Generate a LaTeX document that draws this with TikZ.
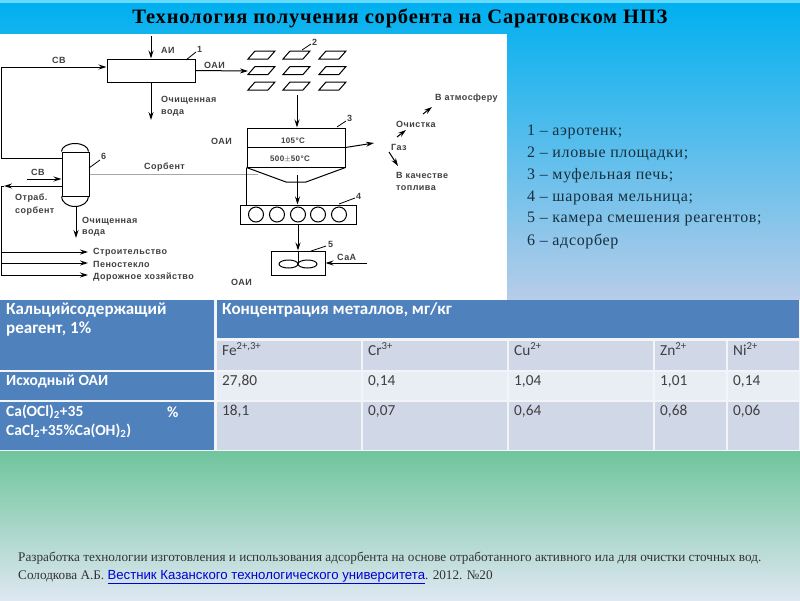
\documentclass[tikz,border=0pt]{standalone}
\usepackage{fontspec}
\setmainfont{Liberation Serif}
\newfontfamily\schemefont[LetterSpace=5]{Liberation Sans}
\newfontfamily\tablefont{Carlito}
\newfontfamily\linkfont{Liberation Sans}
\newfontfamily\titlefont[LetterSpace=4]{Liberation Serif}
\newfontfamily\legendfont[LetterSpace=4]{Liberation Serif}
\usetikzlibrary{arrows.meta}

\definecolor{headblue}{HTML}{4F81BD}
\definecolor{cellgrey}{HTML}{D0D8E8}
\definecolor{celllight}{HTML}{E9EDF4}
\definecolor{legendink}{HTML}{16303F}

\tikzset{
  unit/.style={draw, line width=1pt, inner sep=0pt},
  pipe/.style={line width=1pt},
  flow/.style={line width=1pt, -{Stealth[length=8pt,width=5pt]}},
  lead/.style={line width=0.8pt},
  scheme/.style={font=\schemefont\bfseries\fontsize{9}{11}\selectfont, text=black!75, inner sep=0pt, anchor=west},
  tempmark/.style={font=\schemefont\bfseries\fontsize{8}{10}\selectfont, text=black!75, inner sep=0pt},
  legenditem/.style={font=\legendfont\fontsize{16}{19}\selectfont, text=legendink, inner sep=0pt, anchor=west},
  headtext/.style={font=\tablefont\bfseries\fontsize{17}{20}\selectfont, text=white, inner sep=0pt, anchor=west},
  rowtext/.style={font=\tablefont\bfseries\fontsize{15.5}{18}\selectfont, text=white, inner sep=0pt, anchor=west},
  celltext/.style={font=\tablefont\fontsize{15.3}{18}\selectfont, text=black!75, inner sep=0pt, anchor=west, text height=11pt, text depth=3pt},
  sourcetext/.style={font=\fontsize{13.2}{16}\selectfont, text=black!80, inner sep=0pt, anchor=west},
}

\begin{document}
\begin{tikzpicture}[x=1pt, y=-1pt]
  \useasboundingbox (0, 0) rectangle (800, 600);

  % фон
  \fill[top color=blue!25!cyan!60, bottom color=blue!25!cyan!60] (0, 0) rectangle (800, 3);
  \fill[top color={rgb,255:red,0;green,176;blue,240}, bottom color={rgb,255:red,184;green,204;blue,232}] (0, 3) rectangle (800, 300);
  \fill[celllight!60!white] (0, 300) rectangle (800, 451);
  \fill[top color={rgb,255:red,111;green,197;blue,156}, bottom color={rgb,255:red,222;green,231;blue,242}] (0, 451) rectangle (800, 600);
  \fill[white] (0, 34) rectangle (507, 300);

  \node[font=\titlefont\bfseries\fontsize{20.5}{24}\selectfont, inner sep=0pt] (title) at (400, 18) {Технология получения сорбента на Саратовском НПЗ};

  % 1 -- аэротенк
  \node[unit, minimum width=88pt, minimum height=23pt] (aer) at (151, 70.5) {};
  \coordinate (aiin) at (151, 36);
  \coordinate (aerout) at (151, 120);
  \coordinate (plotin) at (248, 71);
  \coordinate (cvturn) at (1, 67);
  \draw[flow] (aiin) -- (aer.north);
  \draw[flow] (aer.south) -- (aerout);
  \draw[flow] (aer.east) -- (plotin);
  \draw[flow] (cvturn) -- (cvturn -| aer.west);
  \node[scheme] (ai) at (161, 50) {АИ};
  \node[scheme] (aioa) at (204, 65) {ОАИ};
  \node[scheme] (cvtop) at (52, 60) {СВ};
  \node[scheme] (aerwater) at (161, 100) {Очищенная};
  \node[scheme] (aerwatertwo) at (161, 113) {вода};
  \node[scheme] (no1) at (197, 49) {1};
  \coordinate (no1a) at (186, 60);
  \coordinate (no1b) at (196, 52);
  \draw[lead] (no1a) -- (no1b);

  % 2 -- иловые площадки
  \foreach \px in {248, 283, 319}
    \foreach \py in {51, 66.5, 82}
      \draw[unit] (\px, \py + 8) -- (\px + 20, \py + 8) -- (\px + 27, \py) -- (\px + 7, \py) -- cycle;
  \node[scheme] (no2) at (312, 42) {2};
  \coordinate (no2a) at (302, 50);
  \coordinate (no2b) at (311, 44);
  \draw[lead] (no2a) -- (no2b);

  % 3 -- муфельная печь
  \node[unit, minimum width=98pt, minimum height=39pt] (furn) at (296, 147.5) {};
  \draw[pipe] (furn.west) -- (furn.east);
  \coordinate (hopl) at (286, 182);
  \coordinate (hopr) at (306, 182);
  \draw[pipe] (furn.south west) -- (hopl) -- (hopr) -- (furn.south east);
  \coordinate (plotout) at (297, 95);
  \draw[flow] (plotout) -- (plotout |- furn.north);
  \node[tempmark] (tlow) at (293, 141) {105\textdegree C};
  \node[tempmark] (thigh) at (290, 159) {500$\pm$50\textdegree C};
  \node[scheme] (no3) at (347, 118) {3};
  \coordinate (no3a) at (337, 127);
  \coordinate (no3b) at (346, 121);
  \draw[lead] (no3a) -- (no3b);
  \node[scheme] (oaifurn) at (211, 141) {ОАИ};

  % газ
  \coordinate (gasend) at (374, 143);
  \draw[flow] (furn.east) -- (gasend);
  \node[scheme] (gas) at (391, 147) {Газ};
  \node[scheme] (clean) at (396, 124) {Очистка};
  \node[scheme] (atm) at (435, 98) {В атмосферу};
  \node[scheme] (fuel) at (396, 175) {В качестве};
  \node[scheme] (fueltwo) at (396, 188) {топлива};
  \coordinate (gasa) at (397, 137);
  \coordinate (gasb) at (406, 130);
  \coordinate (cleana) at (423, 114);
  \coordinate (cleanb) at (432, 107);
  \coordinate (fuela) at (389, 152);
  \coordinate (fuelb) at (398, 166);
  \draw[flow] (gasa) -- (gasb);
  \draw[flow] (cleana) -- (cleanb);
  \draw[flow] (fuela) -- (fuelb);

  % 4 -- шаровая мельница
  \node[unit, minimum width=116pt, minimum height=19pt] (mill) at (298, 214.5) {};
  \foreach \cx in {256, 277, 298, 318, 339}
    \draw[pipe] (\cx, 214.5) circle[radius=7.5pt];
  \coordinate (hopout) at (297.5, 175);
  \draw[flow] (hopout) -- (hopout |- mill.north);
  \node[scheme] (no4) at (356, 196) {4};
  \coordinate (no4a) at (339, 204);
  \coordinate (no4b) at (355, 198);
  \draw[lead] (no4a) -- (no4b);

  % 5 -- камера смешения
  \node[unit, minimum width=54pt, minimum height=24pt] (mix) at (298, 263) {};
  \draw[flow] (mill.south) -- (mix.north);
  \draw[pipe] (288.5, 264) ellipse[x radius=9.5pt, y radius=4pt];
  \draw[pipe] (307.5, 264) ellipse[x radius=9.5pt, y radius=4pt];
  \coordinate (hub) at (298, 264);
  \draw[pipe] (mix.north) -- (hub);
  \coordinate (caain) at (367, 263);
  \draw[flow] (caain) -- (mix.east);
  \node[scheme] (caa) at (337, 257) {СаА};
  \node[scheme] (oaimix) at (231, 282) {ОАИ};
  \node[scheme] (no5) at (328, 244) {5};
  \coordinate (no5a) at (311, 251);
  \coordinate (no5b) at (326, 246);
  \draw[lead] (no5a) -- (no5b);

  % 6 -- адсорбер
  \node[unit, minimum width=27pt, minimum height=44pt] (ads) at (75.5, 174) {};
  \draw[pipe] (ads.north west) arc[start angle=180, end angle=0, x radius=13.5pt, y radius=8pt];
  \draw[pipe] (ads.south west) arc[start angle=180, end angle=360, x radius=13.5pt, y radius=10pt];
  \coordinate (cvleft) at (1, 158);
  \draw[pipe] (cvturn) -- (cvleft) -- (cvleft -| ads.west);
  \coordinate (cvin) at (27, 179);
  \draw[flow] (cvin) -- (cvin -| ads.west);
  \node[scheme] (cvbot) at (31, 172) {СВ};
  \coordinate (spentend) at (4, 186);
  \draw[flow] (spentend -| ads.west) -- (spentend);
  \node[scheme] (spent) at (15, 198) {Отраб.};
  \node[scheme] (spenttwo) at (15, 211) {сорбент};
  \coordinate (adsbot) at (76, 206);
  \coordinate (adsout) at (76, 238);
  \draw[flow] (adsbot) -- (adsout);
  \node[scheme] (adswater) at (82, 221) {Очищенная};
  \node[scheme] (adswatertwo) at (82, 233) {вода};
  \node[scheme] (no6) at (101, 156) {6};
  \coordinate (no6a) at (89, 168);
  \coordinate (no6b) at (100, 160);
  \draw[lead] (no6a) -- (no6b);

  % сорбент
  \coordinate (sorbend) at (258, 174);
  \draw[black!35, line width=1pt] (ads.east) -- (sorbend);
  \node[scheme] (sorb) at (144, 167) {Сорбент};
  \draw[lead] (furn.south west) -- (furn.south west |- mill.north);

  % потребители
  \coordinate (usea) at (1, 252);
  \coordinate (useb) at (1, 263);
  \coordinate (usec) at (1, 275);
  \coordinate (enda) at (88, 252);
  \coordinate (endb) at (88, 263);
  \coordinate (endc) at (88, 275);
  \coordinate (spentdown) at (1, 186);
  \draw[pipe] (spentend) -- (spentdown) -- (usec);
  \draw[flow] (usea) -- (enda);
  \draw[flow] (useb) -- (endb);
  \draw[flow] (usec) -- (endc);
  \node[scheme] (bld) at (93, 252) {Строительство};
  \node[scheme] (foam) at (93, 264) {Пеностекло};
  \node[scheme] (road) at (93, 277) {Дорожное хозяйство};

  % легенда
  \node[legenditem] (leg1) at (527, 132) {1 – аэротенк;};
  \node[legenditem] (leg2) at (527, 154) {2 – иловые площадки;};
  \node[legenditem] (leg3) at (527, 176) {3 – муфельная печь;};
  \node[legenditem] (leg4) at (527, 198) {4 – шаровая мельница;};
  \node[legenditem] (leg5) at (527, 219) {5 – камера смешения реагентов;};
  \node[legenditem] (leg6) at (527, 241) {6 – адсорбер};

  % таблица
  \fill[headblue] (0, 300) rectangle (214, 370);
  \fill[headblue] (217, 300) rectangle (799, 338);
  \fill[headblue] (0, 372) rectangle (214, 400);
  \fill[headblue] (0, 402) rectangle (214, 450);
  \fill[cellgrey] (217, 341) rectangle (361, 370);
  \fill[cellgrey] (363, 341) rectangle (507, 370);
  \fill[cellgrey] (509, 341) rectangle (653, 370);
  \fill[cellgrey] (655, 341) rectangle (726, 370);
  \fill[cellgrey] (728, 341) rectangle (799, 370);
  \fill[celllight] (217, 372) rectangle (361, 400);
  \fill[celllight] (363, 372) rectangle (507, 400);
  \fill[celllight] (509, 372) rectangle (653, 400);
  \fill[celllight] (655, 372) rectangle (726, 400);
  \fill[celllight] (728, 372) rectangle (799, 400);
  \fill[cellgrey] (217, 402) rectangle (361, 450);
  \fill[cellgrey] (363, 402) rectangle (507, 450);
  \fill[cellgrey] (509, 402) rectangle (653, 450);
  \fill[cellgrey] (655, 402) rectangle (726, 450);
  \fill[cellgrey] (728, 402) rectangle (799, 450);

  \node[headtext] (reagent) at (6, 310) {Кальцийсодержащий};
  \node[headtext] (reagenttwo) at (6, 329) {реагент, 1\%};
  \node[headtext] (conc) at (222, 310) {Концентрация металлов, мг/кг};
  \node[rowtext] (rowa) at (6, 381) {Исходный ОАИ};
  \node[rowtext] (rowb) at (6, 412) {Ca(OCl)\textsubscript{2}+35};
  \node[rowtext] (rowbp) at (167, 412) {\%};
  \node[rowtext] (rowbtwo) at (6, 431) {CaCl\textsubscript{2}+35\%Ca(OH)\textsubscript{2})};

  \node[celltext] (fe) at (222, 351) {Fe\textsuperscript{2+,3+}};
  \node[celltext] (cr) at (368, 351) {Cr\textsuperscript{3+}};
  \node[celltext] (cu) at (514, 351) {Cu\textsuperscript{2+}};
  \node[celltext] (zn) at (660, 351) {Zn\textsuperscript{2+}};
  \node[celltext] (ni) at (733, 351) {Ni\textsuperscript{2+}};
  \node[celltext] (a1) at (222, 381) {27,80};
  \node[celltext] (a2) at (368, 381) {0,14};
  \node[celltext] (a3) at (514, 381) {1,04};
  \node[celltext] (a4) at (660, 381) {1,01};
  \node[celltext] (a5) at (733, 381) {0,14};
  \node[celltext] (b1) at (222, 411) {18,1};
  \node[celltext] (b2) at (368, 411) {0,07};
  \node[celltext] (b3) at (514, 411) {0,64};
  \node[celltext] (b4) at (660, 411) {0,68};
  \node[celltext] (b5) at (733, 411) {0,06};

  % источник
  \node[sourcetext] (src) at (18, 558) {Разработка технологии изготовления и использования адсорбента на основе отработанного активного ила для очистки сточных вод.};
  \node[sourcetext] (srctwo) at (18, 577) {Солодкова А.Б. {\linkfont\color{blue!85!black}\underline{Вестник Казанского технологического университета}}. 2012. №20};
\end{tikzpicture}
\end{document}
